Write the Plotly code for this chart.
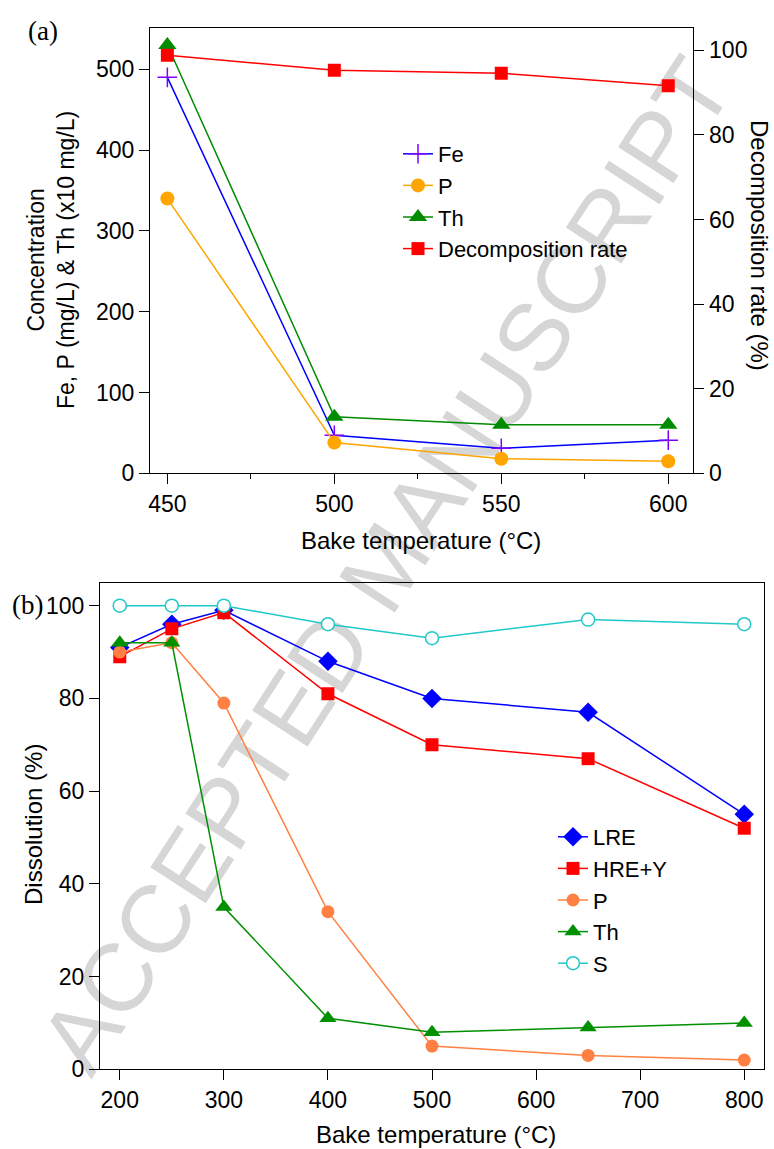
import plotly.graph_objects as go

# ---------------- data (a) ----------------
temp_a = [450, 500, 550, 600]
fe_a = [490, 47, 31, 41]
p_a = [340, 38, 18, 15]
th_a = [530, 70, 60, 60]
decomp_a = [98.8, 95.3, 94.6, 91.6]

# ---------------- data (b) ----------------
temp_b = [200, 250, 300, 400, 500, 650, 800]
lre_b = [91, 96, 99, 88, 80, 77, 55]
hre_b = [89, 95, 98.5, 81, 70, 67, 52]
p_b = [90, 92, 79, 34, 5, 3, 2]
th_b = [92, 92, 35, 11, 8, 9, 10]
s_b = [100, 100, 100, 96, 93, 97, 96]

W, H = 774, 1149
FONT = "Liberation Sans, Arial, sans-serif"

def px(x):
    return x / W

def py(y):
    return 1 - y / H

fig = go.Figure()

# (a) traces
fig.add_trace(go.Scatter(x=temp_a, y=fe_a, name="Fe", mode="lines+markers",
                         line=dict(color="#0000ff", width=1.5),
                         marker=dict(symbol="cross-thin", size=14, color="#8000ff",
                                     line=dict(color="#8000ff", width=1.5)),
                         xaxis="x", yaxis="y", legend="legend"))
fig.add_trace(go.Scatter(x=temp_a, y=p_a, name="P", mode="lines+markers",
                         line=dict(color="#ffa500", width=1.5),
                         marker=dict(symbol="circle", size=14, color="#ffa500"),
                         xaxis="x", yaxis="y", legend="legend"))
fig.add_trace(go.Scatter(x=temp_a, y=th_a, name="Th", mode="lines+markers",
                         line=dict(color="#008c00", width=1.5),
                         marker=dict(symbol="triangle-up", size=16, color="#008c00"),
                         xaxis="x", yaxis="y", legend="legend"))
fig.add_trace(go.Scatter(x=temp_a, y=decomp_a, name="Decomposition rate", mode="lines+markers",
                         line=dict(color="#ff0000", width=1.5),
                         marker=dict(symbol="square", size=13, color="#ff0000"),
                         xaxis="x", yaxis="y2", legend="legend"))

# (b) traces
fig.add_trace(go.Scatter(x=temp_b, y=lre_b, name="LRE", mode="lines+markers",
                         line=dict(color="#0000ff", width=1.5),
                         marker=dict(symbol="diamond", size=15, color="#0000ff"),
                         xaxis="x2", yaxis="y3", legend="legend2"))
fig.add_trace(go.Scatter(x=temp_b, y=hre_b, name="HRE+Y", mode="lines+markers",
                         line=dict(color="#ff0000", width=1.5),
                         marker=dict(symbol="square", size=13, color="#ff0000"),
                         xaxis="x2", yaxis="y3", legend="legend2"))
fig.add_trace(go.Scatter(x=temp_b, y=p_b, name="P", mode="lines+markers",
                         line=dict(color="#ff8042", width=1.5),
                         marker=dict(symbol="circle", size=13, color="#ff8042"),
                         xaxis="x2", yaxis="y3", legend="legend2"))
fig.add_trace(go.Scatter(x=temp_b, y=th_b, name="Th", mode="lines+markers",
                         line=dict(color="#009000", width=1.5),
                         marker=dict(symbol="triangle-up", size=15, color="#009000"),
                         xaxis="x2", yaxis="y3", legend="legend2"))
fig.add_trace(go.Scatter(x=temp_b, y=s_b, name="S", mode="lines+markers",
                         line=dict(color="#20c8c8", width=1.5),
                         marker=dict(symbol="circle", size=13, color="white",
                                     line=dict(color="#20c8c8", width=1.5)),
                         xaxis="x2", yaxis="y3", legend="legend2"))

axis_common = dict(showgrid=False, zeroline=False, showline=True, linecolor="black",
                   linewidth=1.3, ticks="outside", ticklen=10, tickwidth=1.3,
                   tickcolor="black", automargin=False,
                   tickfont=dict(size=23, color="black", family=FONT))

fig.update_layout(
    width=W, height=H,
    margin=dict(l=0, r=0, t=0, b=0, pad=0, autoexpand=False),
    paper_bgcolor="white",
    plot_bgcolor="rgba(0,0,0,0)",
    font=dict(family=FONT, size=23, color="black"),
    xaxis=dict(domain=[px(150), px(693.3)], anchor="y", range=[444.8, 607.5],
               tick0=450, dtick=50, mirror=True,
               minor=dict(dtick=25, tick0=450, ticks="outside", ticklen=5,
                          tickwidth=1.3, tickcolor="black"),
               **axis_common),
    yaxis=dict(domain=[py(473.3), py(28.3)], anchor="x", range=[0, 550.7],
               tick0=0, dtick=100, mirror=False, **axis_common),
    yaxis2=dict(overlaying="y", side="right", anchor="x", range=[0, 105.2],
                tick0=0, dtick=20, **axis_common),
    xaxis2=dict(domain=[px(100), px(764)], anchor="y3", range=[181, 819],
                tick0=200, dtick=100, mirror=True, **axis_common),
    yaxis3=dict(domain=[py(1069.3), py(582.5)], anchor="x2", range=[0, 105],
                tick0=0, dtick=20, mirror=True, **axis_common),
    legend=dict(x=px(398), y=py(133), xanchor="left", yanchor="top",
                bgcolor="rgba(0,0,0,0)", font=dict(size=22, family=FONT)),
    legend2=dict(x=px(553), y=py(816), xanchor="left", yanchor="top",
                 bgcolor="rgba(0,0,0,0)", font=dict(size=22, family=FONT)),
)

annotations = [
    dict(text="Concentration<br>Fe, P (mg/L) & Th (x10 mg/L)", x=px(51), y=py(260),
         textangle=-90, font=dict(size=23)),
    dict(text="Decomposition rate (%)", x=px(760), y=py(245), textangle=90,
         font=dict(size=24)),
    dict(text="Bake temperature (°C)", x=px(421), y=py(540), font=dict(size=24)),
    dict(text="Dissolution (%)", x=px(33), y=py(825), textangle=-90, font=dict(size=24)),
    dict(text="Bake temperature (°C)", x=px(436), y=py(1134), font=dict(size=24)),
    dict(text="(a)", x=px(43), y=py(31), font=dict(size=27, family="Liberation Serif, Times New Roman, serif")),
    dict(text="(b)", x=px(27), y=py(605), font=dict(size=27, family="Liberation Serif, Times New Roman, serif")),
]
for a in annotations:
    a.update(xref="paper", yref="paper", showarrow=False, xanchor="center", yanchor="middle")
    a["font"].setdefault("family", FONT)
    a["font"].setdefault("color", "black")
fig.update_layout(annotations=annotations)

# watermark beneath the plots
fig.add_shape(type="rect", xref="paper", yref="paper",
              x0=px(318), x1=px(438), y0=py(600), y1=py(520),
              line=dict(width=0), fillcolor="rgba(0,0,0,0)", layer="below",
              label=dict(text="ACCEPTED MANUSCRIPT", textangle=-57,
                         textposition="middle center",
                         font=dict(size=96, color="#d6d6d6", family=FONT)))

fig.write_html("out.html")
